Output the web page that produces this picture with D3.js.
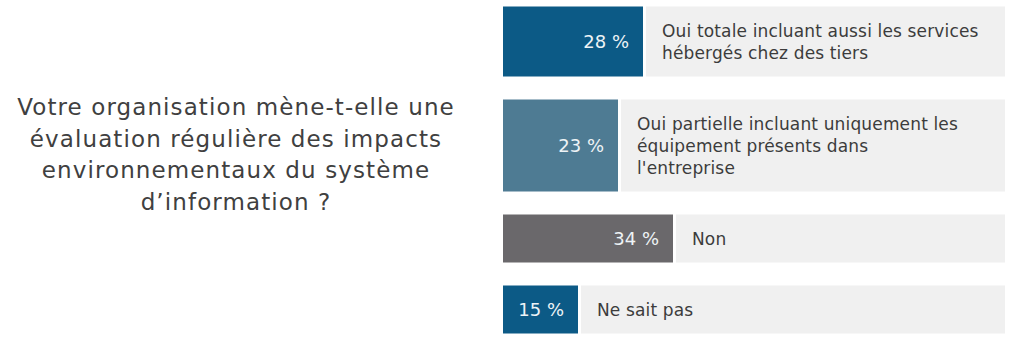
<!DOCTYPE html>
<html><head><meta charset="utf-8">
<script src="https://cdn.jsdelivr.net/npm/d3@7"></script>
<style>html,body{margin:0;padding:0;background:#fff;}svg{display:block;}</style>
</head><body>
<svg id="c" width="1024" height="346"></svg>
<script>
const titleLines = ["Votre organisation mène-t-elle une", "évaluation régulière des impacts", "environnementaux du système", "d’information ?"];
const categories = [
  ["Oui totale incluant aussi les services", "hébergés chez des tiers"],
  ["Oui partielle incluant uniquement les", "équipement présents dans", "l'entreprise"],
  ["Non"],
  ["Ne sait pas"]
];
const values = [28, 23, 34, 15];
const valueLabels = ["28 %", "23 %", "34 %", "15 %"];
const colors = ["#0c5a86", "#4e7b93", "#6a686b", "#0c5a86"];

const svg = d3.select("#c");
const font = "'DejaVu Sans', Verdana, sans-serif";
const x = d3.scaleLinear().domain([0, 100]).range([503, 1003]);
const lineH = 22, pad = 26, gap = 23;

let yPos = 6.5;
const rows = categories.map((lines, i) => {
  const h = pad + lineH * lines.length;
  const r = {lines, v: values[i], label: valueLabels[i], color: colors[i], y: yPos, h};
  yPos += h + gap;
  return r;
});

const g = svg.selectAll("g.row").data(rows).join("g").attr("class", "row");

g.append("rect")
  .attr("x", d => x(d.v) + 3).attr("y", d => d.y)
  .attr("width", d => 1005 - x(d.v) - 3).attr("height", d => d.h)
  .attr("fill", "#f0f0f0");

g.append("rect")
  .attr("x", x(0)).attr("y", d => d.y)
  .attr("width", d => x(d.v) - x(0)).attr("height", d => d.h)
  .attr("fill", d => d.color);

g.append("text")
  .attr("x", d => x(d.v) - 14).attr("y", d => d.y + d.h / 2 + 6.5)
  .attr("text-anchor", "end")
  .attr("font-family", font).attr("font-size", 18)
  .attr("fill", "#eef3f6")
  .text(d => d.label);

g.each(function(d) {
  const t = d3.select(this).append("text")
    .attr("font-family", font).attr("font-size", 17)
    .attr("letter-spacing", 0.15)
    .attr("fill", "#3c3c3c");
  const n = d.lines.length;
  d.lines.forEach((l, j) => {
    t.append("tspan")
      .attr("x", x(d.v) + 19)
      .attr("y", d.y + d.h / 2 + 6 + (j - (n - 1) / 2) * lineH)
      .text(l);
  });
});

const tt = svg.append("text")
  .attr("font-family", font).attr("font-size", 23)
  .attr("letter-spacing", 1.1)
  .attr("fill", "#404040").attr("text-anchor", "middle");
titleLines.forEach((l, j) => {
  tt.append("tspan").attr("x", 236).attr("y", 115 + j * 31.7).text(l);
});
</script>
</body></html>
